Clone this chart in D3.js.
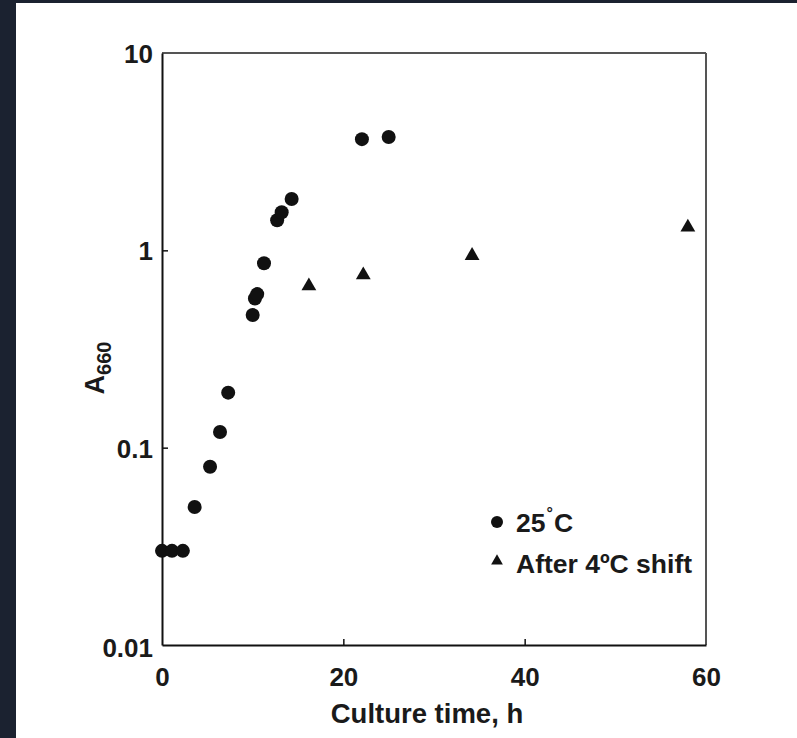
<!DOCTYPE html>
<html>
<head>
<meta charset="utf-8">
<script src="https://cdn.jsdelivr.net/npm/d3@7"></script>
<style>
  body { margin: 0; background: #1b2230; }
  svg { display: block; }
  text { font-family: "Liberation Sans", Arial, sans-serif; font-weight: bold; fill: #1a1a1a; }
</style>
</head>
<body>
<div id="chart"></div>
<script>
// 25 C culture
var warmTime = [0, 1.1, 2.3, 3.6, 5.3, 6.4, 7.3, 10.0, 10.25, 10.5, 11.25, 12.7, 13.2, 14.3, 22.05, 25.0];
var warmA660 = [0.03, 0.03, 0.03, 0.05, 0.08, 0.12, 0.19, 0.47, 0.57, 0.60, 0.86, 1.42, 1.56, 1.82, 3.66, 3.75];
// after shift to 4 C
var coldTime = [16.2, 22.2, 34.2, 58.0];
var coldA660 = [0.66, 0.75, 0.94, 1.31];

var xTicks = [0, 20, 40, 60];
var yTicks = [0.01, 0.1, 1, 10];
var yTickLabels = ["0.01", "0.1", "1", "10"];

var width = 797, height = 738;
var margin = { top: 53, right: 91, bottom: 93, left: 162 };
var plotW = width - margin.left - margin.right;
var plotH = height - margin.top - margin.bottom;

var svg = d3.select("#chart").append("svg")
    .attr("width", width)
    .attr("height", height);

// white page
svg.append("rect")
    .attr("x", 16).attr("y", 3)
    .attr("width", width - 16).attr("height", height - 3)
    .attr("fill", "#ffffff");

var g = svg.append("g")
    .attr("transform", `translate(${margin.left}, ${margin.top})`);

var x = d3.scaleLinear().domain([0, 60]).range([0, plotW]);
var y = d3.scaleLog().domain([0.01, 10]).range([plotH, 0]);

// frame
g.append("line").attr("x1", 0).attr("x2", plotW).attr("y1", 0).attr("y2", 0)
    .attr("stroke", "#555").attr("stroke-width", 2);
g.append("line").attr("x1", plotW).attr("x2", plotW).attr("y1", 0).attr("y2", plotH)
    .attr("stroke", "#555").attr("stroke-width", 2);

// axes, ticks pointing inward
var xAxis = g.append("g")
    .attr("transform", `translate(0, ${plotH})`)
    .call(d3.axisBottom(x).tickValues(xTicks).tickSize(-6).tickSizeOuter(0));
var yAxis = g.append("g")
    .call(d3.axisLeft(y).tickValues(yTicks).tickFormat((d, i) => yTickLabels[i]).tickSize(-6).tickPadding(9).tickSizeOuter(0));

[xAxis, yAxis].forEach(function (a) {
    a.select(".domain").attr("stroke", "#111").attr("stroke-width", 2);
    a.selectAll(".tick line").attr("stroke", "#111").attr("stroke-width", 1.5);
    a.selectAll(".tick text")
        .attr("fill", "#1a1a1a")
        .style("font-family", "'Liberation Sans', Arial, sans-serif")
        .style("font-weight", "bold")
        .style("font-size", "26px");
});
xAxis.selectAll(".tick text").attr("y", 41).attr("dy", 0);
yAxis.selectAll(".tick text").attr("dy", "0.36em");
yAxis.selectAll(".tick").filter(d => d === 0.01).select("text").attr("dy", "0.45em");
// no inner tick at the corners
xAxis.selectAll(".tick").filter(d => d === 0 || d === 60).select("line").remove();
yAxis.selectAll(".tick").filter(d => d === 0.01 || d === 10).select("line").remove();

// points
var warm = warmTime.map((t, i) => ({ t: t, a: warmA660[i] }));
var cold = coldTime.map((t, i) => ({ t: t, a: coldA660[i] }));

g.selectAll(".warm")
    .data(warm)
    .enter()
    .append("circle")
    .attr("class", "warm")
    .attr("cx", d => x(d.t))
    .attr("cy", d => y(d.a))
    .attr("r", 7)
    .attr("fill", "#111");

var tri = d3.symbol().type(d3.symbolTriangle).size(95);
g.selectAll(".cold")
    .data(cold)
    .enter()
    .append("path")
    .attr("class", "cold")
    .attr("d", tri)
    .attr("transform", d => `translate(${x(d.t)}, ${y(d.a)})`)
    .attr("fill", "#111");

// legend
var legend = svg.append("g").attr("transform", "translate(497, 522)");
legend.append("circle").attr("cx", 0).attr("cy", 0).attr("r", 6).attr("fill", "#111");
var l1 = legend.append("text").attr("x", 19).attr("y", 10).style("font-size", "26.5px");
l1.append("tspan").text("25");
l1.append("tspan").attr("dy", -13).attr("dx", 1).style("font-size", "16px").text("°");
l1.append("tspan").attr("dy", 13).attr("dx", 1).text("C");
legend.append("path").attr("d", d3.symbol().type(d3.symbolTriangle).size(60))
    .attr("transform", "translate(0, 39)").attr("fill", "#111");
legend.append("text").attr("x", 19).attr("y", 51).style("font-size", "26.5px")
    .text("After 4ºC shift");

// axis titles
svg.append("text")
    .attr("x", 427).attr("y", 723)
    .attr("text-anchor", "middle")
    .style("font-size", "27.5px")
    .text("Culture time, h");

var yt = svg.append("text")
    .attr("transform", `translate(104, 368) rotate(-90)`)
    .attr("text-anchor", "middle")
    .style("font-size", "27px");
yt.append("tspan").text("A");
yt.append("tspan").attr("dy", 7).style("font-size", "20px").text("660");
</script>
</body>
</html>
